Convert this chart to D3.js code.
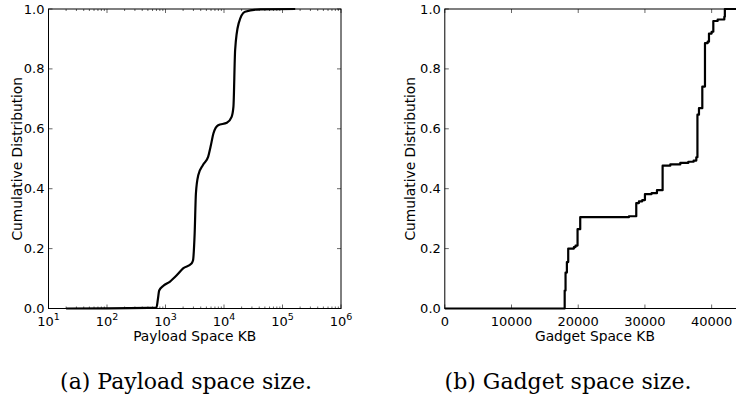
<!DOCTYPE html>
<html>
<head>
<meta charset="utf-8">
<script src="https://cdn.jsdelivr.net/npm/d3@7"></script>
<style>
  html, body { margin: 0; padding: 0; background: #fff; }
  svg { display: block; }
  .tick-label { font-family: "DejaVu Sans", sans-serif; font-size: 13px; fill: #000; }
  .axis-label { font-family: "DejaVu Sans", sans-serif; font-size: 13.8px; fill: #000; }
  .caption { font-family: "DejaVu Serif", "Liberation Serif", serif; font-size: 20px; fill: #000; }
</style>
</head>
<body>
<svg id="chart" width="736" height="401"></svg>
<script>
// ---- Data ----
// (a) Payload space: CDF over log-scaled size in KB
const payloadX = [20, 700, 740, 780, 910, 1180, 1540, 2000, 2780, 2950, 3150, 3310, 3630, 4370, 5370, 5890, 6610, 7940, 11200, 13500, 14500, 15500, 17800, 22900, 41700, 165000];
const payloadY = [0, 0.003, 0.03, 0.06, 0.075, 0.089, 0.11, 0.134, 0.15, 0.16, 0.25, 0.384, 0.445, 0.479, 0.507, 0.54, 0.585, 0.612, 0.62, 0.64, 0.674, 0.863, 0.952, 0.991, 0.999, 1.0];

// (b) Gadget space: step CDF over size in KB
const gadgetX = [0, 17970, 18100, 18300, 18500, 19350, 19600, 19900, 20300, 27600, 28700, 29100, 29600, 30000, 31000, 31800, 32650, 33800, 35300, 36500, 37300, 37700, 37870, 38100, 38600, 39000, 39400, 39600, 40000, 40250, 40900, 41900, 41980, 45000];
const gadgetY = [0, 0.06, 0.12, 0.155, 0.2, 0.205, 0.21, 0.265, 0.305, 0.308, 0.352, 0.358, 0.362, 0.382, 0.385, 0.395, 0.477, 0.481, 0.486, 0.49, 0.494, 0.505, 0.647, 0.669, 0.741, 0.886, 0.891, 0.918, 0.924, 0.96, 0.965, 0.974, 1.0, 1.0];

const yTicks = [0, 0.2, 0.4, 0.6, 0.8, 1.0];
const payloadTicks = [1e1, 1e2, 1e3, 1e4, 1e5, 1e6];
const gadgetTicks = [0, 10000, 20000, 30000, 40000];

const yLabel = "Cumulative Distribution";
const payloadLabel = "Payload Space KB";
const gadgetLabel = "Gadget Space KB";
const captionA = "(a) Payload space size.";
const captionB = "(b) Gadget space size.";

// ---- Drawing ----
const svg = d3.select("#chart");
const plotTop = 9, plotBottom = 308.5;

function drawPanel(opts) {
  const g = svg.append("g");
  const x = opts.x, y = opts.y;
  const [x0, x1] = x.range();

  // data line
  const line = d3.line()
    .x((d, i) => x(opts.xs[i]))
    .y((d, i) => y(opts.ys[i]))
    .curve(opts.curve);
  g.append("path")
    .datum(opts.xs)
    .attr("d", line)
    .attr("fill", "none")
    .attr("stroke", "#000")
    .attr("stroke-width", 2.2)
    .attr("stroke-linejoin", "round");

  // spines
  g.append("rect")
    .attr("x", x0).attr("y", plotTop)
    .attr("width", x1 - x0).attr("height", plotBottom - plotTop)
    .attr("fill", "none").attr("stroke", "#000").attr("stroke-width", 1);

  const tickStroke = (sel) => sel.attr("stroke", "#000").attr("stroke-width", 0.6);

  // y ticks (inward, both sides)
  yTicks.forEach(v => {
    const yy = y(v);
    g.append("line").attr("x1", x0).attr("x2", x0 + 4).attr("y1", yy).attr("y2", yy).call(tickStroke);
    g.append("line").attr("x1", x1).attr("x2", x1 - 4).attr("y1", yy).attr("y2", yy).call(tickStroke);
    g.append("text").attr("class", "tick-label")
      .attr("x", x0 - 4).attr("y", yy)
      .attr("text-anchor", "end").attr("dominant-baseline", "central")
      .text(d3.format(".1f")(v));
  });

  // x ticks
  opts.xTicks.forEach(v => {
    const xx = x(v);
    g.append("line").attr("x1", xx).attr("x2", xx).attr("y1", plotBottom).attr("y2", plotBottom - 4).call(tickStroke);
    g.append("line").attr("x1", xx).attr("x2", xx).attr("y1", plotTop).attr("y2", plotTop + 4).call(tickStroke);
    const t = g.append("text").attr("class", "tick-label")
      .attr("x", xx).attr("y", 326).attr("text-anchor", "middle");
    opts.tickText(t, v);
  });
  if (opts.minor) {
    opts.minor.forEach(v => {
      const xx = x(v);
      g.append("line").attr("x1", xx).attr("x2", xx).attr("y1", plotBottom).attr("y2", plotBottom - 2).call(tickStroke);
      g.append("line").attr("x1", xx).attr("x2", xx).attr("y1", plotTop).attr("y2", plotTop + 2).call(tickStroke);
    });
  }

  // axis labels
  g.append("text").attr("class", "axis-label")
    .attr("x", (x0 + x1) / 2).attr("y", 341)
    .attr("text-anchor", "middle").text(opts.xLabel);
  g.append("text").attr("class", "axis-label")
    .attr("transform", `translate(${opts.yLabelX},${(plotTop + plotBottom) / 2}) rotate(-90)`)
    .attr("text-anchor", "middle").attr("dominant-baseline", "central")
    .text(yLabel);

  // caption, sized to the width it spans in the reference
  const cap = g.append("text").attr("class", "caption")
    .attr("x", opts.capX).attr("y", 389)
    .attr("text-anchor", "middle").text(opts.caption);
  const w = cap.node().getComputedTextLength();
  if (w > 0) cap.style("font-size", (20 * opts.capWidth / w) + "px");
}

const yScale = d3.scaleLinear().domain([0, 1]).range([plotBottom, plotTop]);

const xLog = d3.scaleLog().domain([1e1, 1e6]).range([48.5, 341]);
const minorLog = [];
for (let e = 1; e < 6; e++) for (let m = 2; m <= 9; m++) minorLog.push(m * Math.pow(10, e));

drawPanel({
  x: xLog, y: yScale, xs: payloadX, ys: payloadY,
  curve: d3.curveMonotoneX,
  xTicks: payloadTicks, minor: minorLog,
  tickText: (t, v) => {
    t.append("tspan").text("10");
    t.append("tspan").attr("dy", -6).attr("font-size", "9.5px").text(Math.round(Math.log10(v)));
  },
  xLabel: payloadLabel, yLabelX: 17,
  caption: captionA, capX: 186, capWidth: 252
});

const xLin = d3.scaleLinear().domain([0, 45000]).range([444.8, 745]);
drawPanel({
  x: xLin, y: yScale, xs: gadgetX, ys: gadgetY,
  curve: d3.curveStepAfter,
  xTicks: gadgetTicks, minor: null,
  tickText: (t, v) => t.text(String(v)),
  xLabel: gadgetLabel, yLabelX: 410,
  caption: captionB, capX: 568, capWidth: 247
});
</script>
</body>
</html>
